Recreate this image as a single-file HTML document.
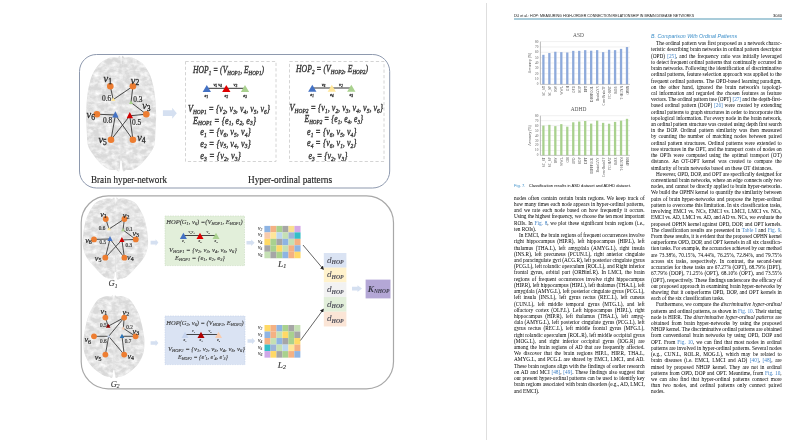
<!DOCTYPE html>
<html><head><meta charset="utf-8">
<style>
*{margin:0;padding:0;box-sizing:border-box}
html,body{width:798px;height:442px;overflow:hidden;background:#fff}
body{position:relative;font-family:"Liberation Serif",serif;color:#222}
.abs{position:absolute}
#vline{position:absolute;left:486px;top:3px;width:1px;height:437px;background:#dedede}
#hdr{position:absolute;left:514px;top:12.6px;font:4.05px "Liberation Sans",sans-serif;color:#111;white-space:nowrap;transform-origin:0 0;transform:scaleX(0.895)}
#pgno{position:absolute;left:773px;top:12.6px;font:4.05px "Liberation Sans",sans-serif;color:#111}
#rule{position:absolute;left:514px;top:18.2px;width:268px;height:1.4px;background:#a9ccda}
.col{position:absolute;width:130.7px;font-size:5.3px;line-height:6.22px;color:#000}
.col div{text-align:justify;text-align-last:justify;white-space:nowrap;height:6.22px}
.col div.l{text-align-last:left}
.col div.i{text-indent:5px}
.lk{color:#3d7fc4}
#cap{position:absolute;left:514px;top:182.6px;font:4.12px "Liberation Sans",sans-serif;color:#000;white-space:nowrap}
#cap b{font-weight:normal;color:#3d8fc9;margin-right:3.4px}
#head{position:absolute;left:651px;top:32.5px;font:italic 5.25px "Liberation Sans",sans-serif;color:#3d8fc9;white-space:nowrap}
body>*{filter:blur(0.4px)}
</style></head><body>
<div id="vline"></div>
<div id="hdr">DU et al.: HOP: MEASURING HIGH-ORDER CONNECTION RELATIONSHIP IN BRAIN DISEASE NETWORKS</div>
<div id="pgno">3040</div>
<div id="rule"></div>

<!-- CHARTS -->
<div id="charts"><svg class="abs" style="left:0;top:0" width="798" height="442" viewBox="0 0 798 442">
<text x="578.5" y="37.3" font-family="Liberation Serif" font-size="5.4" fill="#555" text-anchor="middle">ASD</text>
<line x1="540.4" y1="41.60" x2="630.0" y2="41.60" stroke="#e2e2e2" stroke-width="0.5"/>
<line x1="540.4" y1="46.95" x2="630.0" y2="46.95" stroke="#e2e2e2" stroke-width="0.5"/>
<line x1="540.4" y1="52.30" x2="630.0" y2="52.30" stroke="#e2e2e2" stroke-width="0.5"/>
<line x1="540.4" y1="57.65" x2="630.0" y2="57.65" stroke="#e2e2e2" stroke-width="0.5"/>
<line x1="540.4" y1="63.00" x2="630.0" y2="63.00" stroke="#e2e2e2" stroke-width="0.5"/>
<line x1="540.4" y1="68.35" x2="630.0" y2="68.35" stroke="#e2e2e2" stroke-width="0.5"/>
<line x1="540.4" y1="73.70" x2="630.0" y2="73.70" stroke="#e2e2e2" stroke-width="0.5"/>
<line x1="540.4" y1="79.05" x2="630.0" y2="79.05" stroke="#e2e2e2" stroke-width="0.5"/>
<text x="538.4" y="42.60" font-family="Liberation Serif" font-size="3.3" fill="#555" text-anchor="end">80</text>
<text x="538.4" y="47.95" font-family="Liberation Serif" font-size="3.3" fill="#555" text-anchor="end">70</text>
<text x="538.4" y="53.30" font-family="Liberation Serif" font-size="3.3" fill="#555" text-anchor="end">60</text>
<text x="538.4" y="58.65" font-family="Liberation Serif" font-size="3.3" fill="#555" text-anchor="end">50</text>
<text x="538.4" y="64.00" font-family="Liberation Serif" font-size="3.3" fill="#555" text-anchor="end">40</text>
<text x="538.4" y="69.35" font-family="Liberation Serif" font-size="3.3" fill="#555" text-anchor="end">30</text>
<text x="538.4" y="74.70" font-family="Liberation Serif" font-size="3.3" fill="#555" text-anchor="end">20</text>
<text x="538.4" y="80.05" font-family="Liberation Serif" font-size="3.3" fill="#555" text-anchor="end">10</text>
<text x="538.4" y="85.40" font-family="Liberation Serif" font-size="3.3" fill="#555" text-anchor="end">0</text>
<rect x="542.24" y="54.81" width="2.3" height="29.59" fill="#8eaadb"/>
<text transform="translate(545.29,86.0) rotate(-90)" font-family="Liberation Serif" font-size="3.4" fill="#4a4a4a" text-anchor="end" textLength="9.8" lengthAdjust="spacingAndGlyphs">SC_ST</text>
<rect x="548.21" y="53.05" width="2.3" height="31.35" fill="#8eaadb"/>
<text transform="translate(551.26,86.0) rotate(-90)" font-family="Liberation Serif" font-size="3.4" fill="#4a4a4a" text-anchor="end" textLength="9.8" lengthAdjust="spacingAndGlyphs">SC_SP</text>
<rect x="554.18" y="51.77" width="2.3" height="32.63" fill="#8eaadb"/>
<text transform="translate(557.23,86.0) rotate(-90)" font-family="Liberation Serif" font-size="3.4" fill="#4a4a4a" text-anchor="end" textLength="5.8" lengthAdjust="spacingAndGlyphs">RW</text>
<rect x="560.16" y="52.14" width="2.3" height="32.26" fill="#8eaadb"/>
<text transform="translate(563.21,86.0) rotate(-90)" font-family="Liberation Serif" font-size="3.4" fill="#4a4a4a" text-anchor="end" textLength="8.7" lengthAdjust="spacingAndGlyphs">WWL</text>
<rect x="566.13" y="52.46" width="2.3" height="31.94" fill="#8eaadb"/>
<text transform="translate(569.18,86.0) rotate(-90)" font-family="Liberation Serif" font-size="3.4" fill="#4a4a4a" text-anchor="end" textLength="5.2" lengthAdjust="spacingAndGlyphs">GH</text>
<rect x="572.10" y="50.86" width="2.3" height="33.54" fill="#8eaadb"/>
<text transform="translate(575.15,86.0) rotate(-90)" font-family="Liberation Serif" font-size="3.4" fill="#4a4a4a" text-anchor="end" textLength="6.9" lengthAdjust="spacingAndGlyphs">OPD</text>
<rect x="578.08" y="50.86" width="2.3" height="33.54" fill="#8eaadb"/>
<text transform="translate(581.13,86.0) rotate(-90)" font-family="Liberation Serif" font-size="3.4" fill="#4a4a4a" text-anchor="end" textLength="6.9" lengthAdjust="spacingAndGlyphs">SOP</text>
<rect x="584.05" y="50.16" width="2.3" height="34.24" fill="#8eaadb"/>
<text transform="translate(587.10,86.0) rotate(-90)" font-family="Liberation Serif" font-size="3.4" fill="#4a4a4a" text-anchor="end" textLength="6.3" lengthAdjust="spacingAndGlyphs">DPT</text>
<rect x="590.02" y="50.70" width="2.3" height="33.71" fill="#8eaadb"/>
<text transform="translate(593.07,86.0) rotate(-90)" font-family="Liberation Serif" font-size="3.4" fill="#4a4a4a" text-anchor="end" textLength="16" lengthAdjust="spacingAndGlyphs">DIFFPOOL</text>
<rect x="596.00" y="50.16" width="2.3" height="34.24" fill="#8eaadb"/>
<text transform="translate(599.05,86.0) rotate(-90)" font-family="Liberation Serif" font-size="3.4" fill="#4a4a4a" text-anchor="end" textLength="15" lengthAdjust="spacingAndGlyphs">BrainGNN</text>
<rect x="601.97" y="52.14" width="2.3" height="32.26" fill="#8eaadb"/>
<text transform="translate(605.02,86.0) rotate(-90)" font-family="Liberation Serif" font-size="3.4" fill="#4a4a4a" text-anchor="end" textLength="19.6" lengthAdjust="spacingAndGlyphs">Com-BrainTF</text>
<rect x="607.94" y="49.79" width="2.3" height="34.61" fill="#8eaadb"/>
<text transform="translate(610.99,86.0) rotate(-90)" font-family="Liberation Serif" font-size="3.4" fill="#4a4a4a" text-anchor="end" textLength="12.7" lengthAdjust="spacingAndGlyphs">FC-HAT</text>
<rect x="613.92" y="50.16" width="2.3" height="34.24" fill="#8eaadb"/>
<text transform="translate(616.97,86.0) rotate(-90)" font-family="Liberation Serif" font-size="3.4" fill="#4a4a4a" text-anchor="end" textLength="7.5" lengthAdjust="spacingAndGlyphs">HONN</text>
<rect x="619.89" y="48.88" width="2.3" height="35.52" fill="#8eaadb"/>
<text transform="translate(622.94,86.0) rotate(-90)" font-family="Liberation Serif" font-size="3.4" fill="#4a4a4a" text-anchor="end" textLength="13.3" lengthAdjust="spacingAndGlyphs">T-HGNN</text>
<rect x="625.86" y="47.06" width="2.3" height="37.34" fill="#8eaadb"/>
<text transform="translate(628.91,86.0) rotate(-90)" font-family="Liberation Serif" font-size="3.4" fill="#4a4a4a" text-anchor="end" textLength="8.7" lengthAdjust="spacingAndGlyphs">OPHN</text>
<line x1="540.4" y1="84.4" x2="630.0" y2="84.4" stroke="#a6a6a6" stroke-width="0.6"/>
<line x1="540.4" y1="41.6" x2="540.4" y2="84.4" stroke="#8c8c8c" stroke-width="0.6"/>
<text transform="translate(530.6,63.00) rotate(-90)" font-family="Liberation Serif" font-size="3.7" fill="#444" text-anchor="middle">Accuracy (%)</text>
<text x="578.5" y="110.6" font-family="Liberation Serif" font-size="5.4" fill="#555" text-anchor="middle">ADHD</text>
<line x1="540.4" y1="115.70" x2="630.0" y2="115.70" stroke="#e2e2e2" stroke-width="0.5"/>
<line x1="540.4" y1="120.66" x2="630.0" y2="120.66" stroke="#e2e2e2" stroke-width="0.5"/>
<line x1="540.4" y1="125.62" x2="630.0" y2="125.62" stroke="#e2e2e2" stroke-width="0.5"/>
<line x1="540.4" y1="130.59" x2="630.0" y2="130.59" stroke="#e2e2e2" stroke-width="0.5"/>
<line x1="540.4" y1="135.55" x2="630.0" y2="135.55" stroke="#e2e2e2" stroke-width="0.5"/>
<line x1="540.4" y1="140.51" x2="630.0" y2="140.51" stroke="#e2e2e2" stroke-width="0.5"/>
<line x1="540.4" y1="145.47" x2="630.0" y2="145.47" stroke="#e2e2e2" stroke-width="0.5"/>
<line x1="540.4" y1="150.44" x2="630.0" y2="150.44" stroke="#e2e2e2" stroke-width="0.5"/>
<text x="538.4" y="116.70" font-family="Liberation Serif" font-size="3.3" fill="#555" text-anchor="end">80</text>
<text x="538.4" y="121.66" font-family="Liberation Serif" font-size="3.3" fill="#555" text-anchor="end">70</text>
<text x="538.4" y="126.62" font-family="Liberation Serif" font-size="3.3" fill="#555" text-anchor="end">60</text>
<text x="538.4" y="131.59" font-family="Liberation Serif" font-size="3.3" fill="#555" text-anchor="end">50</text>
<text x="538.4" y="136.55" font-family="Liberation Serif" font-size="3.3" fill="#555" text-anchor="end">40</text>
<text x="538.4" y="141.51" font-family="Liberation Serif" font-size="3.3" fill="#555" text-anchor="end">30</text>
<text x="538.4" y="146.47" font-family="Liberation Serif" font-size="3.3" fill="#555" text-anchor="end">20</text>
<text x="538.4" y="151.44" font-family="Liberation Serif" font-size="3.3" fill="#555" text-anchor="end">10</text>
<text x="538.4" y="156.40" font-family="Liberation Serif" font-size="3.3" fill="#555" text-anchor="end">0</text>
<rect x="542.24" y="125.58" width="2.3" height="29.82" fill="#a9d18e"/>
<text transform="translate(545.29,157.4) rotate(-90)" font-family="Liberation Serif" font-size="3.4" fill="#4a4a4a" text-anchor="end" textLength="9.8" lengthAdjust="spacingAndGlyphs">SC_ST</text>
<rect x="548.21" y="124.83" width="2.3" height="30.57" fill="#a9d18e"/>
<text transform="translate(551.26,157.4) rotate(-90)" font-family="Liberation Serif" font-size="3.4" fill="#4a4a4a" text-anchor="end" textLength="9.8" lengthAdjust="spacingAndGlyphs">SC_SP</text>
<rect x="554.18" y="126.12" width="2.3" height="29.28" fill="#a9d18e"/>
<text transform="translate(557.23,157.4) rotate(-90)" font-family="Liberation Serif" font-size="3.4" fill="#4a4a4a" text-anchor="end" textLength="5.8" lengthAdjust="spacingAndGlyphs">RW</text>
<rect x="560.16" y="124.14" width="2.3" height="31.26" fill="#a9d18e"/>
<text transform="translate(563.21,157.4) rotate(-90)" font-family="Liberation Serif" font-size="3.4" fill="#4a4a4a" text-anchor="end" textLength="8.7" lengthAdjust="spacingAndGlyphs">WWL</text>
<rect x="566.13" y="126.67" width="2.3" height="28.73" fill="#a9d18e"/>
<text transform="translate(569.18,157.4) rotate(-90)" font-family="Liberation Serif" font-size="3.4" fill="#4a4a4a" text-anchor="end" textLength="5.2" lengthAdjust="spacingAndGlyphs">GH</text>
<rect x="572.10" y="122.30" width="2.3" height="33.10" fill="#a9d18e"/>
<text transform="translate(575.15,157.4) rotate(-90)" font-family="Liberation Serif" font-size="3.4" fill="#4a4a4a" text-anchor="end" textLength="6.9" lengthAdjust="spacingAndGlyphs">OPD</text>
<rect x="578.08" y="121.56" width="2.3" height="33.84" fill="#a9d18e"/>
<text transform="translate(581.13,157.4) rotate(-90)" font-family="Liberation Serif" font-size="3.4" fill="#4a4a4a" text-anchor="end" textLength="6.9" lengthAdjust="spacingAndGlyphs">SOP</text>
<rect x="584.05" y="121.01" width="2.3" height="34.39" fill="#a9d18e"/>
<text transform="translate(587.10,157.4) rotate(-90)" font-family="Liberation Serif" font-size="3.4" fill="#4a4a4a" text-anchor="end" textLength="6.3" lengthAdjust="spacingAndGlyphs">DPT</text>
<rect x="590.02" y="123.59" width="2.3" height="31.81" fill="#a9d18e"/>
<text transform="translate(593.07,157.4) rotate(-90)" font-family="Liberation Serif" font-size="3.4" fill="#4a4a4a" text-anchor="end" textLength="16" lengthAdjust="spacingAndGlyphs">DIFFPOOL</text>
<rect x="596.00" y="120.66" width="2.3" height="34.74" fill="#a9d18e"/>
<text transform="translate(599.05,157.4) rotate(-90)" font-family="Liberation Serif" font-size="3.4" fill="#4a4a4a" text-anchor="end" textLength="15" lengthAdjust="spacingAndGlyphs">BrainGNN</text>
<rect x="601.97" y="122.85" width="2.3" height="32.55" fill="#a9d18e"/>
<text transform="translate(605.02,157.4) rotate(-90)" font-family="Liberation Serif" font-size="3.4" fill="#4a4a4a" text-anchor="end" textLength="19.6" lengthAdjust="spacingAndGlyphs">Com-BrainTF</text>
<rect x="607.94" y="123.74" width="2.3" height="31.66" fill="#a9d18e"/>
<text transform="translate(610.99,157.4) rotate(-90)" font-family="Liberation Serif" font-size="3.4" fill="#4a4a4a" text-anchor="end" textLength="12.7" lengthAdjust="spacingAndGlyphs">FC-HAT</text>
<rect x="613.92" y="121.90" width="2.3" height="33.50" fill="#a9d18e"/>
<text transform="translate(616.97,157.4) rotate(-90)" font-family="Liberation Serif" font-size="3.4" fill="#4a4a4a" text-anchor="end" textLength="7.5" lengthAdjust="spacingAndGlyphs">HONN</text>
<rect x="619.89" y="120.66" width="2.3" height="34.74" fill="#a9d18e"/>
<text transform="translate(622.94,157.4) rotate(-90)" font-family="Liberation Serif" font-size="3.4" fill="#4a4a4a" text-anchor="end" textLength="13.3" lengthAdjust="spacingAndGlyphs">T-HGNN</text>
<rect x="625.86" y="118.83" width="2.3" height="36.57" fill="#a9d18e"/>
<text transform="translate(628.91,157.4) rotate(-90)" font-family="Liberation Serif" font-size="3.4" fill="#4a4a4a" text-anchor="end" textLength="8.7" lengthAdjust="spacingAndGlyphs">OPHN</text>
<line x1="540.4" y1="155.4" x2="630.0" y2="155.4" stroke="#a6a6a6" stroke-width="0.6"/>
<line x1="540.4" y1="115.7" x2="540.4" y2="155.4" stroke="#8c8c8c" stroke-width="0.6"/>
<text transform="translate(530.6,135.55) rotate(-90)" font-family="Liberation Serif" font-size="3.7" fill="#444" text-anchor="middle">Accuracy (%)</text>
</svg></div>

<div id="cap"><b>Fig. 7.</b>Classification results in ASD dataset and ADHD dataset.</div>

<div class="col" style="left:514px;top:194.8px">
<div>nodes often contain certain brain regions. We keep track of</div>
<div>how many times each node appears in hyper-ordinal patterns,</div>
<div>and we rate each node based on how frequently it occurs.</div>
<div style="letter-spacing:-0.044px">Using the highest frequency, we choose the ten most important</div>
<div>ROIs. In <span class="lk">Fig. 8</span>, we plot these significant brain regions (i.e.,</div>
<div class="l">ten ROIs).</div>
<div class="i" style="letter-spacing:-0.004px">In EMCI, the brain regions of frequent occurrences involve</div>
<div>right hippocampus (HIP.R), left hippocampus (HIP.L), left</div>
<div>thalamus (THA.L), left amygdala (AMYG.L), right insula</div>
<div>(INS.R), left precuneus (PCUN.L), right anterior cingulate</div>
<div style="letter-spacing:-0.023px">and paracingulate gyri (ACG.R), left posterior cingulate gyrus</div>
<div style="letter-spacing:-0.014px">(PCG.L), left rolandic operculum (ROL.L), and Right inferior</div>
<div>frontal gyrus, orbital part (ORBinf.R). In LMCI, the brain</div>
<div>regions of frequent occurrences involve right hippocampus</div>
<div style="letter-spacing:-0.042px">(HIP.R), left hippocampus (HIP.L), left thalamus (THA.L), left</div>
<div style="letter-spacing:-0.007px">amygdala (AMYG.L), left posterior cingulate gyrus (PCG.L),</div>
<div>left insula (INS.L), left gyrus rectus (REC.L), left cuneus</div>
<div>(CUN.L), left middle temporal gyrus (MTG.L), and left</div>
<div>olfactory cortex (OLF.L). Left hippocampus (HIP.L), right</div>
<div>hippocampus (HIP.R), left thalamus (THA.L), left amyg-</div>
<div>dala (AMYG.L), left posterior cingulate gyrus (PCG.L), left</div>
<div>gyrus rectus (REC.L), left middle frontal gyrus (MFG.L),</div>
<div style="letter-spacing:-0.013px">right rolandic operculum (ROL.R), left middle occipital gyrus</div>
<div>(MOG.L), and right inferior occipital gyrus (IOG.R) are</div>
<div>among the brain regions of AD that are frequently affected.</div>
<div>We discover that the brain regions HIP.L, HIP.R, THA.L,</div>
<div>AMYG.L, and PCG.L are shared by EMCI, LMCI, and AD.</div>
<div>These brain regions align with the findings of earlier research</div>
<div>on AD and MCI <span class="lk">[48]</span>, <span class="lk">[49]</span>. These findings also suggest that</div>
<div>our present hyper-ordinal patterns can be used to identify key</div>
<div style="letter-spacing:-0.032px">brain regions associated with brain disorders (e.g., AD, LMCI,</div>
<div class="l">and EMCI).</div>
</div>

<div id="head">B. Comparison With Ordinal Patterns</div>
<div class="col" style="left:651px;top:40.2px">
<div class="i" style="letter-spacing:-0.004px">The ordinal pattern was first proposed as a network charac-</div>
<div style="letter-spacing:-0.008px">teristic describing brain networks in ordinal pattern descriptor</div>
<div>(OPD) <span class="lk">[25]</span>, and the frequency ratio was initially leveraged</div>
<div style="letter-spacing:-0.010px">to detect frequent ordinal patterns that continually occurred in</div>
<div style="letter-spacing:-0.004px">brain networks. Following the identification of discriminative</div>
<div style="letter-spacing:-0.008px">ordinal patterns, feature selection approach was applied to the</div>
<div>frequent ordinal patterns. The OPD-based learning paradigm,</div>
<div>on the other hand, ignored the brain network's topologi-</div>
<div>cal information and regarded the chosen features as feature</div>
<div style="letter-spacing:-0.063px">vectors. The ordinal pattern tree (OPT) <span class="lk">[27]</span> and the depth-first-</div>
<div>based ordinal pattern (DOP) <span class="lk">[26]</span> were created by extending</div>
<div style="letter-spacing:-0.017px">ordinal patterns to graph structures in order to incorporate this</div>
<div>topological information. For every node in the brain network,</div>
<div style="letter-spacing:-0.053px">an ordinal pattern structure was created using depth first search</div>
<div>in the DOP. Ordinal pattern similarity was then measured</div>
<div>by counting the number of matching nodes between paired</div>
<div>ordinal pattern structures. Ordinal patterns were extended to</div>
<div>tree structures in the OPT, and the transport costs of nodes on</div>
<div>the OPTs were computed using the optimal transport (OT)</div>
<div>distance. An OT-OPT kernel was created to compare the</div>
<div class="l">similarity of brain networks based on these OT distances.</div>
<div class="i" style="letter-spacing:-0.041px">However, OPD, DOP, and OPT are specifically designed for</div>
<div style="letter-spacing:-0.048px">conventional brain networks, where an edge connects only two</div>
<div style="letter-spacing:-0.028px">nodes, and cannot be directly applied to brain hyper-networks.</div>
<div>We build the OPHN kernel to quantify the similarity between</div>
<div>pairs of brain hyper-networks and propose the hyper-ordinal</div>
<div>pattern to overcome this limitation. In six classification tasks,</div>
<div>involving EMCI vs. NCs, EMCI vs. LMCI, LMCI vs. NCs,</div>
<div style="letter-spacing:-0.059px">EMCI vs. AD, LMCI vs. AD, and AD vs. NCs, we evaluate the</div>
<div>proposed OPHN kernel against OPD, DOP, and OPT kernels.</div>
<div>The classification results are presented in <span class="lk">Table I</span> and <span class="lk">Fig. 9</span>.</div>
<div style="letter-spacing:-0.060px">From these results, it is evident that the proposed OPHN kernel</div>
<div style="letter-spacing:-0.007px">outperforms OPD, DOP, and OPT kernels in all six classifica-</div>
<div style="letter-spacing:-0.061px">tion tasks. For example, the accuracies achieved by our method</div>
<div>are 73.38%, 70.15%, 74.44%, 76.25%, 72.84%, and 79.75%</div>
<div>across six tasks, respectively. In contrast, the second-best</div>
<div>accuracies for these tasks are 67.27% (OPT), 68.79% (DPT),</div>
<div>67.79% (DOP), 71.25% (OPT), 68.10% (OPT), and 73.55%</div>
<div style="letter-spacing:-0.019px">(OPT), respectively. These findings underscore the efficacy of</div>
<div style="letter-spacing:-0.007px">our proposed approach in examining brain hyper-networks by</div>
<div>showing that it outperforms OPD, DOP, and OPT kernels in</div>
<div class="l">each of the six classification tasks.</div>
<div class="i">Furthermore, we compare the <i>discriminative hyper-ordinal</i></div>
<div style="letter-spacing:-0.052px">patterns and ordinal patterns, as shown in <span class="lk">Fig. 10</span>. Their staring</div>
<div>node is HIP.R. The <i>discriminative hyper-ordinal patterns</i> are</div>
<div>obtained from brain hyper-networks by using the proposed</div>
<div style="letter-spacing:-0.040px">NHOP kernel. The discriminative ordinal patterns are obtained</div>
<div>from conventional brain networks by using OPD, DOP and</div>
<div>OPT. From <span class="lk">Fig. 10</span>, we can find that most nodes in ordinal</div>
<div>patterns are involved in hyper-ordinal patterns. Several nodes</div>
<div>(e.g., CUN.L, ROL.R, MOG.L), which may be related to</div>
<div>brain diseases (i.e. EMCI, LMCI and AD) <span class="lk">[40]</span>, <span class="lk">[48]</span>, are</div>
<div>mined by proposed NHOP kernel. They are not in ordinal</div>
<div>patterns from OPD, DOP and OPT. Meantime, from <span class="lk">Fig. 10</span>,</div>
<div>we can also find that hyper-ordinal patterns connect more</div>
<div>than two nodes, and ordinal patterns only connect paired</div>
<div class="l">nodes.</div>
</div>

<!-- DIAGRAMS -->
<div id="diag"><svg class="abs" style="left:0;top:0" width="798" height="442" viewBox="0 0 798 442">
<defs>
<filter id="wn0" x="0" y="0" width="1" height="1" color-interpolation-filters="sRGB"><feTurbulence type="fractalNoise" baseFrequency="0.16 0.22" numOctaves="3" seed="11"/><feColorMatrix type="matrix" values="0 0 0 0 1  0 0 0 0 1  0 0 0 0 1  1.8 0 0 0 -0.62"/></filter>
<filter id="wn1" x="0" y="0" width="1" height="1" color-interpolation-filters="sRGB"><feTurbulence type="fractalNoise" baseFrequency="0.16 0.22" numOctaves="3" seed="23"/><feColorMatrix type="matrix" values="0 0 0 0 1  0 0 0 0 1  0 0 0 0 1  1.8 0 0 0 -0.62"/></filter>
</defs>
<rect x="79.5" y="54.5" width="310.2" height="133.5" rx="17" fill="none" stroke="#8e99ae" stroke-width="1"/>
<clipPath id="bc1"><path d="M120.75,60.58 C120.17,51.29 118.73,58.33 117.28,57.76 C115.84,57.20 113.82,57.01 112.09,57.20 C110.35,57.39 108.91,57.88 106.89,58.89 C104.87,59.90 102.21,61.01 99.96,63.28 C97.71,65.54 95.05,69.39 93.38,72.50 C91.70,75.61 90.89,78.31 89.91,81.95 C88.93,85.59 88.12,89.08 87.49,94.33 C86.85,99.58 86.22,107.26 86.10,113.45 C85.98,119.64 86.50,126.20 86.79,131.45 C87.08,136.70 86.85,141.20 87.83,144.95 C88.81,148.70 90.55,150.88 92.68,153.95 C94.82,157.02 98.00,160.87 100.65,163.40 C103.31,165.93 106.14,168.09 108.62,169.14 C111.11,170.19 113.65,170.17 115.55,169.70 C117.46,169.23 119.19,175.70 120.06,166.32 C120.92,156.95 120.63,131.07 120.75,113.45 C120.87,95.82 121.33,69.86 120.75,60.58 Z"/><path d="M121.45,60.58 C122.03,51.29 123.47,58.33 124.91,57.76 C126.36,57.20 128.38,57.01 130.11,57.20 C131.84,57.39 133.29,57.88 135.31,58.89 C137.33,59.90 139.99,61.01 142.24,63.28 C144.49,65.54 147.15,69.39 148.82,72.50 C150.50,75.61 151.31,78.31 152.29,81.95 C153.27,85.59 154.08,89.08 154.71,94.33 C155.35,99.58 155.98,107.26 156.10,113.45 C156.22,119.64 155.70,126.20 155.41,131.45 C155.12,136.70 155.35,141.20 154.37,144.95 C153.39,148.70 151.65,150.88 149.52,153.95 C147.38,157.02 144.20,160.87 141.55,163.40 C138.89,165.93 136.06,168.09 133.58,169.14 C131.09,170.19 128.55,170.17 126.65,169.70 C124.74,169.23 123.01,175.70 122.14,166.32 C121.28,156.95 121.57,131.07 121.45,113.45 C121.33,95.82 120.87,69.86 121.45,60.58 Z"/></clipPath>
<rect x="120.10" y="63.95" width="2" height="96.75" fill="#e2e2e2"/>
<path d="M120.75,60.58 C120.17,51.29 118.73,58.33 117.28,57.76 C115.84,57.20 113.82,57.01 112.09,57.20 C110.35,57.39 108.91,57.88 106.89,58.89 C104.87,59.90 102.21,61.01 99.96,63.28 C97.71,65.54 95.05,69.39 93.38,72.50 C91.70,75.61 90.89,78.31 89.91,81.95 C88.93,85.59 88.12,89.08 87.49,94.33 C86.85,99.58 86.22,107.26 86.10,113.45 C85.98,119.64 86.50,126.20 86.79,131.45 C87.08,136.70 86.85,141.20 87.83,144.95 C88.81,148.70 90.55,150.88 92.68,153.95 C94.82,157.02 98.00,160.87 100.65,163.40 C103.31,165.93 106.14,168.09 108.62,169.14 C111.11,170.19 113.65,170.17 115.55,169.70 C117.46,169.23 119.19,175.70 120.06,166.32 C120.92,156.95 120.63,131.07 120.75,113.45 C120.87,95.82 121.33,69.86 120.75,60.58 Z" fill="#d9d9d9"/>
<path d="M121.45,60.58 C122.03,51.29 123.47,58.33 124.91,57.76 C126.36,57.20 128.38,57.01 130.11,57.20 C131.84,57.39 133.29,57.88 135.31,58.89 C137.33,59.90 139.99,61.01 142.24,63.28 C144.49,65.54 147.15,69.39 148.82,72.50 C150.50,75.61 151.31,78.31 152.29,81.95 C153.27,85.59 154.08,89.08 154.71,94.33 C155.35,99.58 155.98,107.26 156.10,113.45 C156.22,119.64 155.70,126.20 155.41,131.45 C155.12,136.70 155.35,141.20 154.37,144.95 C153.39,148.70 151.65,150.88 149.52,153.95 C147.38,157.02 144.20,160.87 141.55,163.40 C138.89,165.93 136.06,168.09 133.58,169.14 C131.09,170.19 128.55,170.17 126.65,169.70 C124.74,169.23 123.01,175.70 122.14,166.32 C121.28,156.95 121.57,131.07 121.45,113.45 C121.33,95.82 120.87,69.86 121.45,60.58 Z" fill="#d9d9d9"/>
<rect x="84.1" y="55.2" width="74.0" height="116.5" fill="#fff" filter="url(#wn1)" clip-path="url(#bc1)"/>
<line x1="110.30" y1="86.30" x2="113.20" y2="99.60" stroke="#2a2a2a" stroke-width="0.85"/>
<line x1="113.20" y1="99.60" x2="132.90" y2="86.30" stroke="#2a2a2a" stroke-width="0.85"/>
<line x1="132.90" y1="86.30" x2="131.00" y2="102.50" stroke="#2a2a2a" stroke-width="0.85"/>
<line x1="131.00" y1="102.50" x2="146.30" y2="114.20" stroke="#2a2a2a" stroke-width="0.85"/>
<line x1="96.90" y1="114.20" x2="115.40" y2="115.00" stroke="#2a2a2a" stroke-width="0.85"/>
<line x1="115.40" y1="115.00" x2="111.00" y2="139.80" stroke="#2a2a2a" stroke-width="0.85"/>
<line x1="115.40" y1="115.00" x2="132.90" y2="139.80" stroke="#2a2a2a" stroke-width="0.85"/>
<line x1="129.80" y1="115.80" x2="146.30" y2="114.20" stroke="#2a2a2a" stroke-width="0.85"/>
<line x1="129.80" y1="115.80" x2="111.00" y2="139.80" stroke="#2a2a2a" stroke-width="0.85"/>
<line x1="129.80" y1="115.80" x2="132.90" y2="139.80" stroke="#2a2a2a" stroke-width="0.85"/>
<path d="M113.20,97.32 L115.30,101.12 L111.10,101.12 Z" fill="#ffe699"/>
<path d="M131.00,100.22 L133.00,104.02 L129.00,104.02 Z" fill="#a9d18e"/>
<path d="M115.40,111.16 L118.60,117.56 L112.20,117.56 Z" fill="#4472c4"/>
<path d="M129.80,111.96 L133.00,118.36 L126.60,118.36 Z" fill="#d00000"/>
<circle cx="110.30" cy="86.30" r="3.3" fill="#ed7d31"/>
<circle cx="132.90" cy="86.30" r="3.3" fill="#ed7d31"/>
<circle cx="146.30" cy="114.20" r="3.3" fill="#ed7d31"/>
<circle cx="132.90" cy="139.80" r="3.3" fill="#ed7d31"/>
<circle cx="111.00" cy="139.80" r="3.3" fill="#ed7d31"/>
<circle cx="96.90" cy="114.20" r="3.3" fill="#ed7d31"/>
<text x="103.60" y="82.00" font-family="Liberation Serif" font-style="italic" font-size="10.5" fill="#262626" stroke="#262626" stroke-width="0.26">v<tspan font-size="7.56" dy="1.68" font-style="normal">1</tspan></text>
<text x="130.80" y="83.60" font-family="Liberation Serif" font-style="italic" font-size="10.5" fill="#262626" stroke="#262626" stroke-width="0.26">v<tspan font-size="7.56" dy="1.68" font-style="normal">2</tspan></text>
<text x="142.20" y="108.90" font-family="Liberation Serif" font-style="italic" font-size="10.5" fill="#262626" stroke="#262626" stroke-width="0.26">v<tspan font-size="7.56" dy="1.68" font-style="normal">3</tspan></text>
<text x="137.20" y="141.40" font-family="Liberation Serif" font-style="italic" font-size="10.5" fill="#262626" stroke="#262626" stroke-width="0.26">v<tspan font-size="7.56" dy="1.68" font-style="normal">4</tspan></text>
<text x="98.40" y="143.20" font-family="Liberation Serif" font-style="italic" font-size="10.5" fill="#262626" stroke="#262626" stroke-width="0.26">v<tspan font-size="7.56" dy="1.68" font-style="normal">5</tspan></text>
<text x="86.60" y="117.90" font-family="Liberation Serif" font-style="italic" font-size="10.5" fill="#262626" stroke="#262626" stroke-width="0.26">v<tspan font-size="7.56" dy="1.68" font-style="normal">6</tspan></text>
<text x="106.70" y="101.40" font-family="Liberation Serif" font-size="7.4" fill="#333" text-anchor="middle" stroke="#333" stroke-width="0.22">0.6</text>
<text x="137.90" y="102.20" font-family="Liberation Serif" font-size="7.4" fill="#333" text-anchor="middle" stroke="#333" stroke-width="0.22">0.3</text>
<text x="107.50" y="123.00" font-family="Liberation Serif" font-size="7.4" fill="#333" text-anchor="middle" stroke="#333" stroke-width="0.22">0.8</text>
<text x="136.70" y="125.20" font-family="Liberation Serif" font-size="7.4" fill="#333" text-anchor="middle" stroke="#333" stroke-width="0.22">0.5</text>
<path d="M162.9,110.35000000000001 L172.2,110.35000000000001 L172.2,107.65 L176.8,113.2 L172.2,118.75 L172.2,116.05 L162.9,116.05 Z" fill="#d5e0f1"/>
<rect x="185.5" y="61.5" width="90.5" height="100" fill="none" stroke="#cfcfcf" stroke-width="0.9" stroke-dasharray="3.2,2.2"/>
<rect x="289.5" y="61.5" width="94.5" height="100" fill="none" stroke="#cfcfcf" stroke-width="0.9" stroke-dasharray="3.2,2.2"/>
<text x="193.00" y="73.00" font-family="Liberation Serif" font-style="italic" font-size="9.4" fill="#3a3a3a" text-anchor="start" textLength="71" lengthAdjust="spacingAndGlyphs" stroke="#3a3a3a" stroke-width="0.35">HOP<tspan font-size="6.20" dy="1.88">1</tspan><tspan dy="-1.88"> = (</tspan>V<tspan font-size="6.20" dy="1.88">HOP1</tspan><tspan dy="-1.88">, E</tspan><tspan font-size="6.20" dy="1.88">HOP1</tspan><tspan dy="-1.88">)</tspan></text>
<text x="188.00" y="112.20" font-family="Liberation Serif" font-style="italic" font-size="9.4" fill="#3a3a3a" text-anchor="start" textLength="82" lengthAdjust="spacingAndGlyphs" stroke="#3a3a3a" stroke-width="0.35">V<tspan font-size="6.20" dy="1.88">HOP1</tspan><tspan dy="-1.88"> = {</tspan>v<tspan font-size="6.20" dy="1.88">2</tspan><tspan dy="-1.88">, v</tspan><tspan font-size="6.20" dy="1.88">3</tspan><tspan dy="-1.88">, v</tspan><tspan font-size="6.20" dy="1.88">4</tspan><tspan dy="-1.88">, v</tspan><tspan font-size="6.20" dy="1.88">5</tspan><tspan dy="-1.88">, v</tspan><tspan font-size="6.20" dy="1.88">6</tspan><tspan dy="-1.88">}</tspan></text>
<text x="193.00" y="123.60" font-family="Liberation Serif" font-style="italic" font-size="9.4" fill="#3a3a3a" text-anchor="start" textLength="63" lengthAdjust="spacingAndGlyphs" stroke="#3a3a3a" stroke-width="0.35">E<tspan font-size="6.20" dy="1.88">HOP1</tspan><tspan dy="-1.88"> = {</tspan>e<tspan font-size="6.20" dy="1.88">1</tspan><tspan dy="-1.88">, e</tspan><tspan font-size="6.20" dy="1.88">2</tspan><tspan dy="-1.88">, e</tspan><tspan font-size="6.20" dy="1.88">3</tspan><tspan dy="-1.88">}</tspan></text>
<text x="200.30" y="135.00" font-family="Liberation Serif" font-style="italic" font-size="9.4" fill="#3a3a3a" text-anchor="start" textLength="50.4" lengthAdjust="spacingAndGlyphs" stroke="#3a3a3a" stroke-width="0.35">e<tspan font-size="6.20" dy="1.88">1</tspan><tspan dy="-1.88"> = {v</tspan><tspan font-size="6.20" dy="1.88">6</tspan><tspan dy="-1.88">, v</tspan><tspan font-size="6.20" dy="1.88">5</tspan><tspan dy="-1.88">, v</tspan><tspan font-size="6.20" dy="1.88">4</tspan><tspan dy="-1.88">}</tspan></text>
<text x="200.30" y="146.60" font-family="Liberation Serif" font-style="italic" font-size="9.4" fill="#3a3a3a" text-anchor="start" textLength="50.4" lengthAdjust="spacingAndGlyphs" stroke="#3a3a3a" stroke-width="0.35">e<tspan font-size="6.20" dy="1.88">2</tspan><tspan dy="-1.88"> = {v</tspan><tspan font-size="6.20" dy="1.88">5</tspan><tspan dy="-1.88">, v</tspan><tspan font-size="6.20" dy="1.88">4</tspan><tspan dy="-1.88">, v</tspan><tspan font-size="6.20" dy="1.88">3</tspan><tspan dy="-1.88">}</tspan></text>
<text x="200.30" y="159.20" font-family="Liberation Serif" font-style="italic" font-size="9.4" fill="#3a3a3a" text-anchor="start" textLength="40.7" lengthAdjust="spacingAndGlyphs" stroke="#3a3a3a" stroke-width="0.35">e<tspan font-size="6.20" dy="1.88">3</tspan><tspan dy="-1.88"> = {v</tspan><tspan font-size="6.20" dy="1.88">2</tspan><tspan dy="-1.88">, v</tspan><tspan font-size="6.20" dy="1.88">3</tspan><tspan dy="-1.88">}</tspan></text>
<line x1="206.80" y1="88.30" x2="245.00" y2="88.30" stroke="#333" stroke-width="1.0"/>
<path d="M206.80,85.00 L210.95,92.00 L202.65,92.00 Z" fill="#4472c4"/>
<path d="M226.30,85.00 L230.45,92.00 L222.15,92.00 Z" fill="#e00000"/>
<path d="M245.00,85.00 L249.15,92.00 L240.85,92.00 Z" fill="#a9d18e"/>
<text x="217.70" y="86.20" font-family="Liberation Serif" font-style="italic" font-size="4.6" fill="#3a3a3a" text-anchor="middle" stroke="#3a3a3a" stroke-width="0.35">v<tspan font-size="3.04" dy="0.92">5</tspan><tspan dy="-0.92"> v</tspan><tspan font-size="3.04" dy="0.92">4</tspan></text>
<text x="235.40" y="86.20" font-family="Liberation Serif" font-style="italic" font-size="4.6" fill="#3a3a3a" text-anchor="middle" stroke="#3a3a3a" stroke-width="0.35">v<tspan font-size="3.04" dy="0.92">3</tspan></text>
<text x="206.30" y="96.80" font-family="Liberation Serif" font-style="italic" font-size="4.6" fill="#3a3a3a" text-anchor="middle" stroke="#3a3a3a" stroke-width="0.35">e<tspan font-size="3.04" dy="0.92">1</tspan></text>
<text x="226.30" y="96.80" font-family="Liberation Serif" font-style="italic" font-size="4.6" fill="#3a3a3a" text-anchor="middle" stroke="#3a3a3a" stroke-width="0.35">e<tspan font-size="3.04" dy="0.92">2</tspan></text>
<text x="245.00" y="96.80" font-family="Liberation Serif" font-style="italic" font-size="4.6" fill="#3a3a3a" text-anchor="middle" stroke="#3a3a3a" stroke-width="0.35">e<tspan font-size="3.04" dy="0.92">3</tspan></text>
<text x="296.00" y="72.00" font-family="Liberation Serif" font-style="italic" font-size="9.4" fill="#3a3a3a" text-anchor="start" textLength="72" lengthAdjust="spacingAndGlyphs" stroke="#3a3a3a" stroke-width="0.35">HOP<tspan font-size="6.20" dy="1.88">2</tspan><tspan dy="-1.88"> = (</tspan>V<tspan font-size="6.20" dy="1.88">HOP2</tspan><tspan dy="-1.88">, E</tspan><tspan font-size="6.20" dy="1.88">HOP2</tspan><tspan dy="-1.88">)</tspan></text>
<text x="289.60" y="111.00" font-family="Liberation Serif" font-style="italic" font-size="9.4" fill="#3a3a3a" text-anchor="start" textLength="93.5" lengthAdjust="spacingAndGlyphs" stroke="#3a3a3a" stroke-width="0.35">V<tspan font-size="6.20" dy="1.88">HOP2</tspan><tspan dy="-1.88"> = {</tspan>v<tspan font-size="6.20" dy="1.88">1</tspan><tspan dy="-1.88">, v</tspan><tspan font-size="6.20" dy="1.88">2</tspan><tspan dy="-1.88">, v</tspan><tspan font-size="6.20" dy="1.88">3</tspan><tspan dy="-1.88">, v</tspan><tspan font-size="6.20" dy="1.88">4</tspan><tspan dy="-1.88">, v</tspan><tspan font-size="6.20" dy="1.88">5</tspan><tspan dy="-1.88">, v</tspan><tspan font-size="6.20" dy="1.88">6</tspan><tspan dy="-1.88">}</tspan></text>
<text x="304.50" y="122.00" font-family="Liberation Serif" font-style="italic" font-size="9.4" fill="#3a3a3a" text-anchor="start" textLength="58.5" lengthAdjust="spacingAndGlyphs" stroke="#3a3a3a" stroke-width="0.35">E<tspan font-size="6.20" dy="1.88">HOP2</tspan><tspan dy="-1.88"> = {</tspan>e<tspan font-size="6.20" dy="1.88">1</tspan><tspan dy="-1.88">, e</tspan><tspan font-size="6.20" dy="1.88">4</tspan><tspan dy="-1.88">, e</tspan><tspan font-size="6.20" dy="1.88">3</tspan><tspan dy="-1.88">}</tspan></text>
<text x="307.00" y="135.00" font-family="Liberation Serif" font-style="italic" font-size="9.4" fill="#3a3a3a" text-anchor="start" textLength="49.5" lengthAdjust="spacingAndGlyphs" stroke="#3a3a3a" stroke-width="0.35">e<tspan font-size="6.20" dy="1.88">1</tspan><tspan dy="-1.88"> = {v</tspan><tspan font-size="6.20" dy="1.88">6</tspan><tspan dy="-1.88">, v</tspan><tspan font-size="6.20" dy="1.88">5</tspan><tspan dy="-1.88">, v</tspan><tspan font-size="6.20" dy="1.88">4</tspan><tspan dy="-1.88">}</tspan></text>
<text x="307.00" y="146.20" font-family="Liberation Serif" font-style="italic" font-size="9.4" fill="#3a3a3a" text-anchor="start" textLength="49.5" lengthAdjust="spacingAndGlyphs" stroke="#3a3a3a" stroke-width="0.35">e<tspan font-size="6.20" dy="1.88">4</tspan><tspan dy="-1.88"> = {v</tspan><tspan font-size="6.20" dy="1.88">6</tspan><tspan dy="-1.88">, v</tspan><tspan font-size="6.20" dy="1.88">1</tspan><tspan dy="-1.88">, v</tspan><tspan font-size="6.20" dy="1.88">2</tspan><tspan dy="-1.88">}</tspan></text>
<text x="308.40" y="158.80" font-family="Liberation Serif" font-style="italic" font-size="9.4" fill="#3a3a3a" text-anchor="start" textLength="39" lengthAdjust="spacingAndGlyphs" stroke="#3a3a3a" stroke-width="0.35">e<tspan font-size="6.20" dy="1.88">3</tspan><tspan dy="-1.88"> = {v</tspan><tspan font-size="6.20" dy="1.88">2</tspan><tspan dy="-1.88">, v</tspan><tspan font-size="6.20" dy="1.88">3</tspan><tspan dy="-1.88">}</tspan></text>
<line x1="312.30" y1="88.00" x2="351.30" y2="88.00" stroke="#333" stroke-width="1.0"/>
<path d="M312.30,84.70 L316.45,91.70 L308.15,91.70 Z" fill="#4472c4"/>
<path d="M331.80,84.70 L335.95,91.70 L327.65,91.70 Z" fill="#ffe699"/>
<path d="M351.30,84.70 L355.45,91.70 L347.15,91.70 Z" fill="#a9d18e"/>
<text x="323.50" y="85.80" font-family="Liberation Serif" font-style="italic" font-size="4.6" fill="#3a3a3a" text-anchor="middle" stroke="#3a3a3a" stroke-width="0.35">v<tspan font-size="3.04" dy="0.92">6</tspan></text>
<text x="340.90" y="85.80" font-family="Liberation Serif" font-style="italic" font-size="4.6" fill="#3a3a3a" text-anchor="middle" stroke="#3a3a3a" stroke-width="0.35">v<tspan font-size="3.04" dy="0.92">2</tspan></text>
<text x="312.00" y="96.40" font-family="Liberation Serif" font-style="italic" font-size="4.6" fill="#3a3a3a" text-anchor="middle" stroke="#3a3a3a" stroke-width="0.35">e<tspan font-size="3.04" dy="0.92">1</tspan></text>
<text x="331.80" y="96.40" font-family="Liberation Serif" font-style="italic" font-size="4.6" fill="#3a3a3a" text-anchor="middle" stroke="#3a3a3a" stroke-width="0.35">e<tspan font-size="3.04" dy="0.92">4</tspan></text>
<text x="351.30" y="96.40" font-family="Liberation Serif" font-style="italic" font-size="4.6" fill="#3a3a3a" text-anchor="middle" stroke="#3a3a3a" stroke-width="0.35">e<tspan font-size="3.04" dy="0.92">3</tspan></text>
<text x="91.00" y="183.40" font-family="Liberation Serif" font-size="11.2" fill="#222" text-anchor="start" textLength="76" lengthAdjust="spacingAndGlyphs" stroke="#222" stroke-width="0.15">Brain hyper-network</text>
<text x="248.00" y="183.40" font-family="Liberation Serif" font-size="11.2" fill="#222" text-anchor="start" textLength="84" lengthAdjust="spacingAndGlyphs" stroke="#222" stroke-width="0.15">Hyper-ordinal patterns</text>
<rect x="81.2" y="195.8" width="312.3" height="193" rx="27" fill="none" stroke="#a8a8a8" stroke-width="1.2"/>
<clipPath id="bc2"><path d="M115.00,201.00 C114.46,194.41 113.12,199.40 111.78,199.00 C110.45,198.60 108.57,198.47 106.96,198.60 C105.35,198.73 103.75,199.27 102.14,199.80 C100.53,200.33 98.76,200.89 97.32,201.80 C95.87,202.70 95.07,202.98 93.46,205.23 C91.85,207.48 89.15,211.93 87.67,215.30 C86.20,218.67 85.40,222.05 84.62,225.45 C83.84,228.84 83.31,232.29 83.01,235.67 C82.72,239.06 82.29,242.20 82.85,245.74 C83.41,249.28 84.30,253.20 86.39,256.93 C88.48,260.66 92.49,264.85 95.39,268.11 C98.28,271.38 101.28,274.77 103.75,276.50 C106.21,278.23 108.41,278.57 110.18,278.50 C111.95,278.43 113.55,282.76 114.36,276.10 C115.16,269.44 114.89,251.07 115.00,238.55 C115.11,226.03 115.54,207.59 115.00,201.00 Z"/><path d="M115.70,201.00 C116.24,194.41 117.58,199.40 118.91,199.00 C120.25,198.60 122.13,198.47 123.74,198.60 C125.34,198.73 126.95,199.27 128.56,199.80 C130.17,200.33 131.94,200.89 133.38,201.80 C134.83,202.70 135.63,202.98 137.24,205.23 C138.85,207.48 141.55,211.93 143.03,215.30 C144.50,218.67 145.30,222.05 146.08,225.45 C146.86,228.84 147.39,232.29 147.69,235.67 C147.98,239.06 148.41,242.20 147.85,245.74 C147.29,249.28 146.40,253.20 144.31,256.93 C142.22,260.66 138.20,264.85 135.31,268.11 C132.42,271.38 129.42,274.77 126.95,276.50 C124.49,278.23 122.29,278.57 120.52,278.50 C118.75,278.43 117.15,282.76 116.34,276.10 C115.54,269.44 115.81,251.07 115.70,238.55 C115.59,226.03 115.16,207.59 115.70,201.00 Z"/></clipPath>
<rect x="114.35" y="203.39" width="2" height="68.71" fill="#e2e2e2"/>
<path d="M115.00,201.00 C114.46,194.41 113.12,199.40 111.78,199.00 C110.45,198.60 108.57,198.47 106.96,198.60 C105.35,198.73 103.75,199.27 102.14,199.80 C100.53,200.33 98.76,200.89 97.32,201.80 C95.87,202.70 95.07,202.98 93.46,205.23 C91.85,207.48 89.15,211.93 87.67,215.30 C86.20,218.67 85.40,222.05 84.62,225.45 C83.84,228.84 83.31,232.29 83.01,235.67 C82.72,239.06 82.29,242.20 82.85,245.74 C83.41,249.28 84.30,253.20 86.39,256.93 C88.48,260.66 92.49,264.85 95.39,268.11 C98.28,271.38 101.28,274.77 103.75,276.50 C106.21,278.23 108.41,278.57 110.18,278.50 C111.95,278.43 113.55,282.76 114.36,276.10 C115.16,269.44 114.89,251.07 115.00,238.55 C115.11,226.03 115.54,207.59 115.00,201.00 Z" fill="#d9d9d9"/>
<path d="M115.70,201.00 C116.24,194.41 117.58,199.40 118.91,199.00 C120.25,198.60 122.13,198.47 123.74,198.60 C125.34,198.73 126.95,199.27 128.56,199.80 C130.17,200.33 131.94,200.89 133.38,201.80 C134.83,202.70 135.63,202.98 137.24,205.23 C138.85,207.48 141.55,211.93 143.03,215.30 C144.50,218.67 145.30,222.05 146.08,225.45 C146.86,228.84 147.39,232.29 147.69,235.67 C147.98,239.06 148.41,242.20 147.85,245.74 C147.29,249.28 146.40,253.20 144.31,256.93 C142.22,260.66 138.20,264.85 135.31,268.11 C132.42,271.38 129.42,274.77 126.95,276.50 C124.49,278.23 122.29,278.57 120.52,278.50 C118.75,278.43 117.15,282.76 116.34,276.10 C115.54,269.44 115.81,251.07 115.70,238.55 C115.59,226.03 115.16,207.59 115.70,201.00 Z" fill="#d9d9d9"/>
<rect x="80.8" y="196.6" width="69.0" height="83.9" fill="#fff" filter="url(#wn0)" clip-path="url(#bc2)"/>
<line x1="105.80" y1="219.00" x2="109.00" y2="229.00" stroke="#333" stroke-width="0.85"/>
<line x1="109.00" y1="229.00" x2="124.40" y2="219.00" stroke="#333" stroke-width="0.85"/>
<line x1="124.40" y1="219.00" x2="123.00" y2="230.00" stroke="#333" stroke-width="0.85"/>
<line x1="123.00" y1="230.00" x2="135.80" y2="239.40" stroke="#333" stroke-width="0.85"/>
<line x1="94.00" y1="239.40" x2="110.00" y2="239.00" stroke="#333" stroke-width="0.85"/>
<line x1="110.00" y1="239.00" x2="105.30" y2="257.70" stroke="#333" stroke-width="0.85"/>
<line x1="110.00" y1="239.00" x2="124.40" y2="257.70" stroke="#333" stroke-width="0.85"/>
<line x1="121.90" y1="240.00" x2="135.80" y2="239.40" stroke="#333" stroke-width="0.85"/>
<line x1="121.90" y1="240.00" x2="105.30" y2="257.70" stroke="#333" stroke-width="0.85"/>
<line x1="121.90" y1="240.00" x2="124.40" y2="257.70" stroke="#333" stroke-width="0.85"/>
<path d="M109.00,226.96 L110.90,230.36 L107.10,230.36 Z" fill="#ffe699"/>
<path d="M123.00,227.96 L124.90,231.36 L121.10,231.36 Z" fill="#a9d18e"/>
<path d="M110.00,236.00 L112.60,241.00 L107.40,241.00 Z" fill="#4472c4"/>
<path d="M121.90,237.00 L124.50,242.00 L119.30,242.00 Z" fill="#d00000"/>
<circle cx="105.80" cy="219.00" r="2.9" fill="#ed7d31"/>
<circle cx="124.40" cy="219.00" r="2.9" fill="#ed7d31"/>
<circle cx="135.80" cy="239.40" r="2.9" fill="#ed7d31"/>
<circle cx="124.40" cy="257.70" r="2.9" fill="#ed7d31"/>
<circle cx="105.30" cy="257.70" r="2.9" fill="#ed7d31"/>
<circle cx="94.00" cy="239.40" r="2.9" fill="#ed7d31"/>
<text x="100.20" y="216.60" font-family="Liberation Serif" font-style="italic" font-size="8.2" fill="#262626" stroke="#262626" stroke-width="0.20">v<tspan font-size="5.90" dy="1.31" font-style="normal">1</tspan></text>
<text x="122.80" y="217.60" font-family="Liberation Serif" font-style="italic" font-size="8.2" fill="#262626" stroke="#262626" stroke-width="0.20">v<tspan font-size="5.90" dy="1.31" font-style="normal">2</tspan></text>
<text x="132.40" y="235.90" font-family="Liberation Serif" font-style="italic" font-size="8.2" fill="#262626" stroke="#262626" stroke-width="0.20">v<tspan font-size="5.90" dy="1.31" font-style="normal">3</tspan></text>
<text x="127.00" y="259.50" font-family="Liberation Serif" font-style="italic" font-size="8.2" fill="#262626" stroke="#262626" stroke-width="0.20">v<tspan font-size="5.90" dy="1.31" font-style="normal">4</tspan></text>
<text x="94.80" y="260.60" font-family="Liberation Serif" font-style="italic" font-size="8.2" fill="#262626" stroke="#262626" stroke-width="0.20">v<tspan font-size="5.90" dy="1.31" font-style="normal">5</tspan></text>
<text x="85.20" y="242.80" font-family="Liberation Serif" font-style="italic" font-size="8.2" fill="#262626" stroke="#262626" stroke-width="0.20">v<tspan font-size="5.90" dy="1.31" font-style="normal">6</tspan></text>
<text x="102.00" y="230.00" font-family="Liberation Serif" font-size="5.2" fill="#333" text-anchor="middle" stroke="#333" stroke-width="0.15">0.6</text>
<text x="129.30" y="230.70" font-family="Liberation Serif" font-size="5.2" fill="#333" text-anchor="middle" stroke="#333" stroke-width="0.15">0.1</text>
<text x="102.80" y="244.40" font-family="Liberation Serif" font-size="5.2" fill="#333" text-anchor="middle" stroke="#333" stroke-width="0.15">0.5</text>
<text x="128.80" y="247.20" font-family="Liberation Serif" font-size="5.2" fill="#333" text-anchor="middle" stroke="#333" stroke-width="0.15">0.3</text>
<text x="113.00" y="286.00" font-family="Liberation Serif" font-style="italic" font-size="8.5" fill="#3a3a3a" text-anchor="middle" stroke="#3a3a3a" stroke-width="0.1">G<tspan font-size="5.61" dy="1.70">1</tspan></text>
<text x="112.60" y="285.20" font-family="Liberation Serif" font-style="italic" font-size="7" fill="#3a3a3a" text-anchor="middle" stroke="#3a3a3a" stroke-width="0.35"></text>
<path d="M150.6,240.79999999999998 L155.6,240.79999999999998 L155.6,239.29999999999998 L158.4,242.6 L155.6,245.9 L155.6,244.4 L150.6,244.4 Z" fill="#d5e0f1"/>
<clipPath id="bc3"><path d="M113.55,298.62 C113.04,291.97 111.77,297.00 110.51,296.60 C109.24,296.20 107.46,296.00 105.94,296.20 C104.41,296.40 102.94,296.96 101.37,297.81 C99.80,298.66 98.43,298.80 96.50,301.27 C94.57,303.74 91.52,308.84 89.80,312.62 C88.07,316.41 87.06,320.54 86.15,323.97 C85.23,327.41 84.77,330.35 84.32,333.23 C83.86,336.11 83.35,337.87 83.40,341.28 C83.46,344.69 83.30,349.54 84.62,353.68 C85.94,357.81 88.38,362.57 91.32,366.07 C94.27,369.58 99.34,372.92 102.28,374.69 C105.23,376.46 107.21,376.77 108.98,376.70 C110.76,376.63 112.18,380.99 112.94,374.28 C113.70,367.58 113.45,349.06 113.55,336.45 C113.65,323.84 114.06,305.26 113.55,298.62 Z"/><path d="M114.25,298.62 C114.76,291.97 116.03,297.00 117.30,296.60 C118.56,296.20 120.34,296.00 121.86,296.20 C123.39,296.40 124.86,296.96 126.43,297.81 C128.00,298.66 129.37,298.80 131.30,301.27 C133.23,303.74 136.28,308.84 138.00,312.62 C139.73,316.41 140.74,320.54 141.66,323.97 C142.57,327.41 143.03,330.35 143.48,333.23 C143.94,336.11 144.45,337.87 144.40,341.28 C144.34,344.69 144.50,349.54 143.18,353.68 C141.86,357.81 139.42,362.57 136.48,366.07 C133.53,369.58 128.46,372.92 125.52,374.69 C122.57,376.46 120.59,376.77 118.82,376.70 C117.04,376.63 115.62,380.99 114.86,374.28 C114.10,367.58 114.35,349.06 114.25,336.45 C114.15,323.84 113.74,305.26 114.25,298.62 Z"/></clipPath>
<rect x="112.90" y="301.03" width="2" height="69.23" fill="#e2e2e2"/>
<path d="M113.55,298.62 C113.04,291.97 111.77,297.00 110.51,296.60 C109.24,296.20 107.46,296.00 105.94,296.20 C104.41,296.40 102.94,296.96 101.37,297.81 C99.80,298.66 98.43,298.80 96.50,301.27 C94.57,303.74 91.52,308.84 89.80,312.62 C88.07,316.41 87.06,320.54 86.15,323.97 C85.23,327.41 84.77,330.35 84.32,333.23 C83.86,336.11 83.35,337.87 83.40,341.28 C83.46,344.69 83.30,349.54 84.62,353.68 C85.94,357.81 88.38,362.57 91.32,366.07 C94.27,369.58 99.34,372.92 102.28,374.69 C105.23,376.46 107.21,376.77 108.98,376.70 C110.76,376.63 112.18,380.99 112.94,374.28 C113.70,367.58 113.45,349.06 113.55,336.45 C113.65,323.84 114.06,305.26 113.55,298.62 Z" fill="#d9d9d9"/>
<path d="M114.25,298.62 C114.76,291.97 116.03,297.00 117.30,296.60 C118.56,296.20 120.34,296.00 121.86,296.20 C123.39,296.40 124.86,296.96 126.43,297.81 C128.00,298.66 129.37,298.80 131.30,301.27 C133.23,303.74 136.28,308.84 138.00,312.62 C139.73,316.41 140.74,320.54 141.66,323.97 C142.57,327.41 143.03,330.35 143.48,333.23 C143.94,336.11 144.45,337.87 144.40,341.28 C144.34,344.69 144.50,349.54 143.18,353.68 C141.86,357.81 139.42,362.57 136.48,366.07 C133.53,369.58 128.46,372.92 125.52,374.69 C122.57,376.46 120.59,376.77 118.82,376.70 C117.04,376.63 115.62,380.99 114.86,374.28 C114.10,367.58 114.35,349.06 114.25,336.45 C114.15,323.84 113.74,305.26 114.25,298.62 Z" fill="#d9d9d9"/>
<rect x="81.1" y="294.2" width="65.6" height="84.5" fill="#fff" filter="url(#wn1)" clip-path="url(#bc3)"/>
<line x1="105.40" y1="317.60" x2="108.20" y2="326.20" stroke="#333" stroke-width="0.85"/>
<line x1="108.20" y1="326.20" x2="124.20" y2="317.60" stroke="#333" stroke-width="0.85"/>
<line x1="124.20" y1="317.60" x2="108.70" y2="336.30" stroke="#333" stroke-width="0.85"/>
<line x1="124.20" y1="317.60" x2="123.30" y2="328.30" stroke="#333" stroke-width="0.85"/>
<line x1="123.30" y1="328.30" x2="135.60" y2="336.30" stroke="#333" stroke-width="0.85"/>
<line x1="94.00" y1="336.30" x2="108.70" y2="336.30" stroke="#333" stroke-width="0.85"/>
<line x1="108.70" y1="336.30" x2="105.40" y2="354.60" stroke="#333" stroke-width="0.85"/>
<line x1="108.70" y1="336.30" x2="124.20" y2="354.60" stroke="#333" stroke-width="0.85"/>
<line x1="122.00" y1="336.30" x2="135.60" y2="336.30" stroke="#333" stroke-width="0.85"/>
<line x1="122.00" y1="336.30" x2="124.20" y2="354.60" stroke="#333" stroke-width="0.85"/>
<path d="M108.20,323.80 L110.50,327.80 L105.90,327.80 Z" fill="#8b0000"/>
<path d="M123.30,326.50 L125.00,329.50 L121.60,329.50 Z" fill="#f8cbad"/>
<path d="M108.70,334.38 L110.50,337.58 L106.90,337.58 Z" fill="#c9d7ef"/>
<path d="M122.00,333.78 L124.30,337.98 L119.70,337.98 Z" fill="#2e75b6"/>
<circle cx="105.40" cy="317.60" r="2.9" fill="#ed7d31"/>
<circle cx="124.20" cy="317.60" r="2.9" fill="#ed7d31"/>
<circle cx="135.60" cy="336.30" r="2.9" fill="#ed7d31"/>
<circle cx="124.20" cy="354.60" r="2.9" fill="#ed7d31"/>
<circle cx="105.40" cy="354.60" r="2.9" fill="#ed7d31"/>
<circle cx="94.00" cy="336.30" r="2.9" fill="#ed7d31"/>
<text x="100.60" y="314.00" font-family="Liberation Serif" font-style="italic" font-size="8.2" fill="#262626" stroke="#262626" stroke-width="0.20">v<tspan font-size="5.90" dy="1.31" font-style="normal">1</tspan></text>
<text x="122.60" y="314.50" font-family="Liberation Serif" font-style="italic" font-size="8.2" fill="#262626" stroke="#262626" stroke-width="0.20">v<tspan font-size="5.90" dy="1.31" font-style="normal">2</tspan></text>
<text x="132.60" y="333.60" font-family="Liberation Serif" font-style="italic" font-size="8.2" fill="#262626" stroke="#262626" stroke-width="0.20">v<tspan font-size="5.90" dy="1.31" font-style="normal">3</tspan></text>
<text x="127.40" y="358.60" font-family="Liberation Serif" font-style="italic" font-size="8.2" fill="#262626" stroke="#262626" stroke-width="0.20">v<tspan font-size="5.90" dy="1.31" font-style="normal">4</tspan></text>
<text x="94.80" y="359.60" font-family="Liberation Serif" font-style="italic" font-size="8.2" fill="#262626" stroke="#262626" stroke-width="0.20">v<tspan font-size="5.90" dy="1.31" font-style="normal">5</tspan></text>
<text x="84.40" y="342.20" font-family="Liberation Serif" font-style="italic" font-size="8.2" fill="#262626" stroke="#262626" stroke-width="0.20">v<tspan font-size="5.90" dy="1.31" font-style="normal">6</tspan></text>
<text x="103.30" y="327.20" font-family="Liberation Serif" font-size="5.2" fill="#333" text-anchor="middle" stroke="#333" stroke-width="0.15">0.5</text>
<text x="129.60" y="328.70" font-family="Liberation Serif" font-size="5.2" fill="#333" text-anchor="middle" stroke="#333" stroke-width="0.15">0.2</text>
<text x="103.30" y="342.80" font-family="Liberation Serif" font-size="5.2" fill="#333" text-anchor="middle" stroke="#333" stroke-width="0.15">0.6</text>
<text x="128.00" y="343.40" font-family="Liberation Serif" font-size="5.2" fill="#333" text-anchor="middle" stroke="#333" stroke-width="0.15">0.7</text>
<text x="115.20" y="386.60" font-family="Liberation Serif" font-style="italic" font-size="8.5" fill="#3a3a3a" text-anchor="middle" stroke="#3a3a3a" stroke-width="0.1">G<tspan font-size="5.61" dy="1.70">2</tspan></text>
<path d="M150.6,341.2 L155.6,341.2 L155.6,339.7 L158.4,343.0 L155.6,346.3 L155.6,344.8 L150.6,344.8 Z" fill="#d5e0f1"/>
<rect x="165" y="216" width="79.5" height="49.6" fill="#e2efda" stroke="#c9dcbf" stroke-width="0.6" stroke-dasharray="1.5,1"/>
<text x="166.30" y="224.00" font-family="Liberation Serif" font-style="italic" font-size="6.4" fill="#3a3a3a" text-anchor="start" textLength="76.5" lengthAdjust="spacingAndGlyphs" stroke="#3a3a3a" stroke-width="0.12">HOP(G<tspan font-size="4.22" dy="1.28">1</tspan><tspan dy="-1.28">, v</tspan><tspan font-size="4.22" dy="1.28">6</tspan><tspan dy="-1.28">) =(V</tspan><tspan font-size="4.22" dy="1.28">HOP1</tspan><tspan dy="-1.28">, E</tspan><tspan font-size="4.22" dy="1.28">HOP1</tspan><tspan dy="-1.28">)</tspan></text>
<line x1="183.40" y1="235.50" x2="216.00" y2="235.50" stroke="#333" stroke-width="0.9"/>
<path d="M183.40,232.68 L186.90,238.88 L179.90,238.88 Z" fill="#4472c4"/>
<path d="M200.00,232.68 L203.50,238.88 L196.50,238.88 Z" fill="#e00000"/>
<path d="M216.00,232.68 L219.50,238.88 L212.50,238.88 Z" fill="#a9d18e"/>
<text x="191.50" y="233.40" font-family="Liberation Serif" font-style="italic" font-size="3.9" fill="#3a3a3a" text-anchor="middle" stroke="#3a3a3a" stroke-width="0.12">v<tspan font-size="2.57" dy="0.78">5</tspan><tspan dy="-0.78">v</tspan><tspan font-size="2.57" dy="0.78">4</tspan></text>
<text x="208.00" y="233.40" font-family="Liberation Serif" font-style="italic" font-size="3.9" fill="#3a3a3a" text-anchor="middle" stroke="#3a3a3a" stroke-width="0.12">v<tspan font-size="2.57" dy="0.78">3</tspan></text>
<text x="183.40" y="241.80" font-family="Liberation Serif" font-style="italic" font-size="3.9" fill="#3a3a3a" text-anchor="middle" stroke="#3a3a3a" stroke-width="0.12">e<tspan font-size="2.57" dy="0.78">1</tspan></text>
<text x="200.00" y="241.80" font-family="Liberation Serif" font-style="italic" font-size="3.9" fill="#3a3a3a" text-anchor="middle" stroke="#3a3a3a" stroke-width="0.12">e<tspan font-size="2.57" dy="0.78">2</tspan></text>
<text x="216.00" y="241.80" font-family="Liberation Serif" font-style="italic" font-size="3.9" fill="#3a3a3a" text-anchor="middle" stroke="#3a3a3a" stroke-width="0.12">e<tspan font-size="2.57" dy="0.78">3</tspan></text>
<text x="169.00" y="251.60" font-family="Liberation Serif" font-style="italic" font-size="6.4" fill="#3a3a3a" text-anchor="start" textLength="68" lengthAdjust="spacingAndGlyphs" stroke="#3a3a3a" stroke-width="0.12">V<tspan font-size="4.22" dy="1.28">HOP1</tspan><tspan dy="-1.28"> = {v</tspan><tspan font-size="4.22" dy="1.28">2</tspan><tspan dy="-1.28">, v</tspan><tspan font-size="4.22" dy="1.28">3</tspan><tspan dy="-1.28">, v</tspan><tspan font-size="4.22" dy="1.28">4</tspan><tspan dy="-1.28">, v</tspan><tspan font-size="4.22" dy="1.28">5</tspan><tspan dy="-1.28">, v</tspan><tspan font-size="4.22" dy="1.28">6</tspan><tspan dy="-1.28">}</tspan></text>
<text x="175.00" y="260.20" font-family="Liberation Serif" font-style="italic" font-size="6.4" fill="#3a3a3a" text-anchor="start" textLength="50" lengthAdjust="spacingAndGlyphs" stroke="#3a3a3a" stroke-width="0.12">E<tspan font-size="4.22" dy="1.28">HOP1</tspan><tspan dy="-1.28"> = {e</tspan><tspan font-size="4.22" dy="1.28">1</tspan><tspan dy="-1.28">, e</tspan><tspan font-size="4.22" dy="1.28">2</tspan><tspan dy="-1.28">, e</tspan><tspan font-size="4.22" dy="1.28">3</tspan><tspan dy="-1.28">}</tspan></text>
<path d="M246.5,241.0 L251.2,241.0 L251.2,239.5 L254.6,242.8 L251.2,246.10000000000002 L251.2,244.60000000000002 L246.5,244.60000000000002 Z" fill="#d5e0f1"/>
<rect x="165" y="316" width="80" height="48.6" fill="#dae3f3" stroke="#c5d2ea" stroke-width="0.6" stroke-dasharray="1.5,1"/>
<text x="166.30" y="324.60" font-family="Liberation Serif" font-style="italic" font-size="6.4" fill="#3a3a3a" text-anchor="start" textLength="77.5" lengthAdjust="spacingAndGlyphs" stroke="#3a3a3a" stroke-width="0.12">HOP(G<tspan font-size="4.22" dy="1.28">2</tspan><tspan dy="-1.28">, v</tspan><tspan font-size="4.22" dy="1.28">6</tspan><tspan dy="-1.28">) = (V</tspan><tspan font-size="4.22" dy="1.28">HOP2</tspan><tspan dy="-1.28">, E</tspan><tspan font-size="4.22" dy="1.28">HOP2</tspan><tspan dy="-1.28">)</tspan></text>
<line x1="185.00" y1="334.50" x2="218.50" y2="334.50" stroke="#333" stroke-width="0.9"/>
<path d="M185.00,331.68 L188.50,337.88 L181.50,337.88 Z" fill="#c5d3ee"/>
<path d="M201.00,331.68 L204.50,337.88 L197.50,337.88 Z" fill="#b00000"/>
<path d="M218.50,331.68 L222.00,337.88 L215.00,337.88 Z" fill="#f8cbad"/>
<text x="193.50" y="332.40" font-family="Liberation Serif" font-style="italic" font-size="3.9" fill="#3a3a3a" text-anchor="middle" stroke="#3a3a3a" stroke-width="0.12">v<tspan font-size="2.57" dy="0.78">1</tspan></text>
<text x="210.00" y="332.40" font-family="Liberation Serif" font-style="italic" font-size="3.9" fill="#3a3a3a" text-anchor="middle" stroke="#3a3a3a" stroke-width="0.12">v<tspan font-size="2.57" dy="0.78">2</tspan></text>
<text x="185.00" y="340.80" font-family="Liberation Serif" font-style="italic" font-size="3.9" fill="#3a3a3a" text-anchor="middle" stroke="#3a3a3a" stroke-width="0.12">e<tspan font-size="2.57" dy="0.78">1</tspan></text>
<text x="201.00" y="340.80" font-family="Liberation Serif" font-style="italic" font-size="3.9" fill="#3a3a3a" text-anchor="middle" stroke="#3a3a3a" stroke-width="0.12">e<tspan font-size="2.57" dy="0.78">4</tspan></text>
<text x="218.50" y="340.80" font-family="Liberation Serif" font-style="italic" font-size="3.9" fill="#3a3a3a" text-anchor="middle" stroke="#3a3a3a" stroke-width="0.12">e<tspan font-size="2.57" dy="0.78">3</tspan></text>
<text x="168.00" y="350.80" font-family="Liberation Serif" font-style="italic" font-size="6.4" fill="#3a3a3a" text-anchor="start" textLength="77" lengthAdjust="spacingAndGlyphs" stroke="#3a3a3a" stroke-width="0.12">V<tspan font-size="4.22" dy="1.28">HOP2</tspan><tspan dy="-1.28"> = {v</tspan><tspan font-size="4.22" dy="1.28">1</tspan><tspan dy="-1.28">, v</tspan><tspan font-size="4.22" dy="1.28">2</tspan><tspan dy="-1.28">, v</tspan><tspan font-size="4.22" dy="1.28">3</tspan><tspan dy="-1.28">, v</tspan><tspan font-size="4.22" dy="1.28">4</tspan><tspan dy="-1.28">, v</tspan><tspan font-size="4.22" dy="1.28">5</tspan><tspan dy="-1.28">, v</tspan><tspan font-size="4.22" dy="1.28">6</tspan><tspan dy="-1.28">}</tspan></text>
<text x="178.00" y="359.00" font-family="Liberation Serif" font-style="italic" font-size="6.4" fill="#3a3a3a" text-anchor="start" textLength="50" lengthAdjust="spacingAndGlyphs" stroke="#3a3a3a" stroke-width="0.12">E<tspan font-size="4.22" dy="1.28">HOP2</tspan><tspan dy="-1.28"> = {e'</tspan><tspan font-size="4.22" dy="1.28">1</tspan><tspan dy="-1.28">, e'</tspan><tspan font-size="4.22" dy="1.28">4</tspan><tspan dy="-1.28">, e'</tspan><tspan font-size="4.22" dy="1.28">3</tspan><tspan dy="-1.28">}</tspan></text>
<path d="M247.5,339.2 L252.0,339.2 L252.0,337.7 L255.2,341.0 L252.0,344.3 L252.0,342.8 L247.5,342.8 Z" fill="#d5e0f1"/>
<rect x="264.40" y="225.90" width="6.07" height="6.51" fill="#8eb4e3"/>
<rect x="270.42" y="225.90" width="6.07" height="6.51" fill="#f4b183"/>
<rect x="276.43" y="225.90" width="6.07" height="6.51" fill="#a9d18e"/>
<rect x="282.45" y="225.90" width="6.07" height="6.51" fill="#a6a6a6"/>
<rect x="288.47" y="225.90" width="6.07" height="6.51" fill="#f9e08f"/>
<rect x="294.48" y="225.90" width="6.07" height="6.51" fill="#d4a9e6"/>
<text x="260.20" y="229.91" font-family="Liberation Serif" font-style="italic" font-size="5.4" fill="#3a3a3a" text-anchor="middle" stroke="#3a3a3a" stroke-width="0.1">v<tspan font-size="3.56" dy="1.08">2</tspan></text>
<rect x="264.40" y="232.36" width="6.07" height="6.51" fill="#f8cbad"/>
<rect x="270.42" y="232.36" width="6.07" height="6.51" fill="#ffe699"/>
<rect x="276.43" y="232.36" width="6.07" height="6.51" fill="#bdd7ee"/>
<rect x="282.45" y="232.36" width="6.07" height="6.51" fill="#c5e0b4"/>
<rect x="288.47" y="232.36" width="6.07" height="6.51" fill="#9db3d8"/>
<rect x="294.48" y="232.36" width="6.07" height="6.51" fill="#33bfc8"/>
<text x="260.20" y="236.37" font-family="Liberation Serif" font-style="italic" font-size="5.4" fill="#3a3a3a" text-anchor="middle" stroke="#3a3a3a" stroke-width="0.1">v<tspan font-size="3.56" dy="1.08">3</tspan></text>
<rect x="264.40" y="238.82" width="6.07" height="6.51" fill="#ffd966"/>
<rect x="270.42" y="238.82" width="6.07" height="6.51" fill="#a9d18e"/>
<rect x="276.43" y="238.82" width="6.07" height="6.51" fill="#a6a6a6"/>
<rect x="282.45" y="238.82" width="6.07" height="6.51" fill="#8eb4e3"/>
<rect x="288.47" y="238.82" width="6.07" height="6.51" fill="#c5e0b4"/>
<rect x="294.48" y="238.82" width="6.07" height="6.51" fill="#f4b183"/>
<text x="260.20" y="242.83" font-family="Liberation Serif" font-style="italic" font-size="5.4" fill="#3a3a3a" text-anchor="middle" stroke="#3a3a3a" stroke-width="0.1">v<tspan font-size="3.56" dy="1.08">4</tspan></text>
<rect x="264.40" y="245.28" width="6.07" height="6.51" fill="#a6a6a6"/>
<rect x="270.42" y="245.28" width="6.07" height="6.51" fill="#a9d18e"/>
<rect x="276.43" y="245.28" width="6.07" height="6.51" fill="#ffd966"/>
<rect x="282.45" y="245.28" width="6.07" height="6.51" fill="#c5e0b4"/>
<rect x="288.47" y="245.28" width="6.07" height="6.51" fill="#f4b183"/>
<rect x="294.48" y="245.28" width="6.07" height="6.51" fill="#8eb4e3"/>
<text x="260.20" y="249.29" font-family="Liberation Serif" font-style="italic" font-size="5.4" fill="#3a3a3a" text-anchor="middle" stroke="#3a3a3a" stroke-width="0.1">v<tspan font-size="3.56" dy="1.08">5</tspan></text>
<rect x="264.40" y="251.74" width="6.07" height="6.51" fill="#c5e0b4"/>
<rect x="270.42" y="251.74" width="6.07" height="6.51" fill="#a6a6a6"/>
<rect x="276.43" y="251.74" width="6.07" height="6.51" fill="#a9d18e"/>
<rect x="282.45" y="251.74" width="6.07" height="6.51" fill="#8eb4e3"/>
<rect x="288.47" y="251.74" width="6.07" height="6.51" fill="#f4b183"/>
<rect x="294.48" y="251.74" width="6.07" height="6.51" fill="#ffd966"/>
<text x="260.20" y="255.75" font-family="Liberation Serif" font-style="italic" font-size="5.4" fill="#3a3a3a" text-anchor="middle" stroke="#3a3a3a" stroke-width="0.1">v<tspan font-size="3.56" dy="1.08">6</tspan></text>
<rect x="264.50" y="325.00" width="6.02" height="6.57" fill="#ffd966"/>
<rect x="270.47" y="325.00" width="6.02" height="6.57" fill="#f4b183"/>
<rect x="276.43" y="325.00" width="6.02" height="6.57" fill="#8eb4e3"/>
<rect x="282.40" y="325.00" width="6.02" height="6.57" fill="#a9d18e"/>
<rect x="288.37" y="325.00" width="6.02" height="6.57" fill="#a6a6a6"/>
<rect x="294.33" y="325.00" width="6.02" height="6.57" fill="#c5e0b4"/>
<text x="260.20" y="329.04" font-family="Liberation Serif" font-style="italic" font-size="5.4" fill="#3a3a3a" text-anchor="middle" stroke="#3a3a3a" stroke-width="0.1">v<tspan font-size="3.56" dy="1.08">2</tspan></text>
<rect x="264.50" y="331.52" width="6.02" height="6.57" fill="#8eb4e3"/>
<rect x="270.47" y="331.52" width="6.02" height="6.57" fill="#f4b183"/>
<rect x="276.43" y="331.52" width="6.02" height="6.57" fill="#c5e0b4"/>
<rect x="282.40" y="331.52" width="6.02" height="6.57" fill="#ffd966"/>
<rect x="288.37" y="331.52" width="6.02" height="6.57" fill="#a9d18e"/>
<rect x="294.33" y="331.52" width="6.02" height="6.57" fill="#a6a6a6"/>
<text x="260.20" y="335.56" font-family="Liberation Serif" font-style="italic" font-size="5.4" fill="#3a3a3a" text-anchor="middle" stroke="#3a3a3a" stroke-width="0.1">v<tspan font-size="3.56" dy="1.08">3</tspan></text>
<rect x="264.50" y="338.04" width="6.02" height="6.57" fill="#f4b183"/>
<rect x="270.47" y="338.04" width="6.02" height="6.57" fill="#c5e0b4"/>
<rect x="276.43" y="338.04" width="6.02" height="6.57" fill="#8eb4e3"/>
<rect x="282.40" y="338.04" width="6.02" height="6.57" fill="#a6a6a6"/>
<rect x="288.37" y="338.04" width="6.02" height="6.57" fill="#a9d18e"/>
<rect x="294.33" y="338.04" width="6.02" height="6.57" fill="#ffd966"/>
<text x="260.20" y="342.08" font-family="Liberation Serif" font-style="italic" font-size="5.4" fill="#3a3a3a" text-anchor="middle" stroke="#3a3a3a" stroke-width="0.1">v<tspan font-size="3.56" dy="1.08">4</tspan></text>
<rect x="264.50" y="344.56" width="6.02" height="6.57" fill="#33bfc8"/>
<rect x="270.47" y="344.56" width="6.02" height="6.57" fill="#9db3d8"/>
<rect x="276.43" y="344.56" width="6.02" height="6.57" fill="#c5e0b4"/>
<rect x="282.40" y="344.56" width="6.02" height="6.57" fill="#bdd7ee"/>
<rect x="288.37" y="344.56" width="6.02" height="6.57" fill="#ffe699"/>
<rect x="294.33" y="344.56" width="6.02" height="6.57" fill="#f4b183"/>
<text x="260.20" y="348.60" font-family="Liberation Serif" font-style="italic" font-size="5.4" fill="#3a3a3a" text-anchor="middle" stroke="#3a3a3a" stroke-width="0.1">v<tspan font-size="3.56" dy="1.08">5</tspan></text>
<rect x="264.50" y="351.08" width="6.02" height="6.57" fill="#cfa8e8"/>
<rect x="270.47" y="351.08" width="6.02" height="6.57" fill="#ffd966"/>
<rect x="276.43" y="351.08" width="6.02" height="6.57" fill="#a6a6a6"/>
<rect x="282.40" y="351.08" width="6.02" height="6.57" fill="#a9d18e"/>
<rect x="288.37" y="351.08" width="6.02" height="6.57" fill="#f4b183"/>
<rect x="294.33" y="351.08" width="6.02" height="6.57" fill="#8eb4e3"/>
<text x="260.20" y="355.12" font-family="Liberation Serif" font-style="italic" font-size="5.4" fill="#3a3a3a" text-anchor="middle" stroke="#3a3a3a" stroke-width="0.1">v<tspan font-size="3.56" dy="1.08">6</tspan></text>
<text x="282.20" y="266.60" font-family="Liberation Serif" font-style="italic" font-size="9.2" fill="#3a3a3a" text-anchor="middle" stroke="#3a3a3a" stroke-width="0.15">L<tspan font-size="6.07" dy="1.84">1</tspan></text>
<text x="281.90" y="367.60" font-family="Liberation Serif" font-style="italic" font-size="9.2" fill="#3a3a3a" text-anchor="middle" stroke="#3a3a3a" stroke-width="0.15">L<tspan font-size="6.07" dy="1.84">2</tspan></text>
<defs><marker id="ah" markerWidth="4" markerHeight="4" refX="3" refY="2" orient="auto" markerUnits="userSpaceOnUse"><path d="M0,0 L4,2 L0,4 Z" fill="#222"/></marker></defs>
<line x1="303" y1="245" x2="323.4" y2="269.2" stroke="#222" stroke-width="0.7" marker-end="url(#ah)"/>
<line x1="300.4" y1="340.5" x2="323.4" y2="309.3" stroke="#222" stroke-width="0.7" marker-end="url(#ah)"/>
<rect x="323.8" y="253.00" width="22.6" height="14.73" fill="#dae3f3"/>
<text x="327.0" y="262.60" font-family="Liberation Serif" font-style="italic" font-size="8.6" fill="#4a4a56" stroke="#4a4a56" stroke-width="0.05" textLength="16.6" lengthAdjust="spacingAndGlyphs">d<tspan font-size="5.4" font-weight="bold" dy="1.6">HOP</tspan></text>
<rect x="323.8" y="267.68" width="22.6" height="14.73" fill="#fff2cc"/>
<text x="327.0" y="277.28" font-family="Liberation Serif" font-style="italic" font-size="8.6" fill="#4a4a56" stroke="#4a4a56" stroke-width="0.05" textLength="16.6" lengthAdjust="spacingAndGlyphs">d<tspan font-size="5.4" font-weight="bold" dy="1.6">HOP</tspan></text>
<rect x="323.8" y="282.36" width="22.6" height="14.73" fill="#f2f2f2"/>
<text x="327.0" y="291.96" font-family="Liberation Serif" font-style="italic" font-size="8.6" fill="#4a4a56" stroke="#4a4a56" stroke-width="0.05" textLength="16.6" lengthAdjust="spacingAndGlyphs">d<tspan font-size="5.4" font-weight="bold" dy="1.6">HOP</tspan></text>
<rect x="323.8" y="297.04" width="22.6" height="14.73" fill="#e2efda"/>
<text x="327.0" y="306.64" font-family="Liberation Serif" font-style="italic" font-size="8.6" fill="#4a4a56" stroke="#4a4a56" stroke-width="0.05" textLength="16.6" lengthAdjust="spacingAndGlyphs">d<tspan font-size="5.4" font-weight="bold" dy="1.6">HOP</tspan></text>
<rect x="323.8" y="311.72" width="22.6" height="14.73" fill="#fbe5d6"/>
<text x="327.0" y="321.32" font-family="Liberation Serif" font-style="italic" font-size="8.6" fill="#4a4a56" stroke="#4a4a56" stroke-width="0.05" textLength="16.6" lengthAdjust="spacingAndGlyphs">d<tspan font-size="5.4" font-weight="bold" dy="1.6">HOP</tspan></text>
<path d="M352.0,286.8 L357.5,286.8 L357.5,285.3 L362.0,288.6 L357.5,291.90000000000003 L357.5,290.40000000000003 L352.0,290.40000000000003 Z" fill="#d5e0f1"/>
<rect x="365.6" y="279.6" width="24.9" height="18.8" fill="#b4a7d6"/>
<text x="367.8" y="291.8" font-family="Liberation Serif" font-style="italic" font-weight="bold" font-size="9.0" fill="#3a3a4a" textLength="21.6" lengthAdjust="spacingAndGlyphs">K<tspan font-size="5.4" dy="1.6">NHOP</tspan></text>
</svg></div>
</body></html>
